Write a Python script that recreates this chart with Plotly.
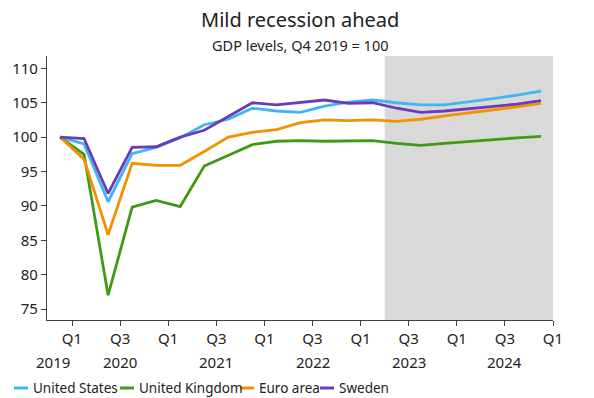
import plotly.graph_objects as go

# Quarterly GDP levels, indexed to Q4 2019 = 100
quarters = [
    "2019Q4", "2020Q1", "2020Q2", "2020Q3", "2020Q4",
    "2021Q1", "2021Q2", "2021Q3", "2021Q4",
    "2022Q1", "2022Q2", "2022Q3", "2022Q4",
    "2023Q1", "2023Q2", "2023Q3", "2023Q4",
    "2024Q1", "2024Q2", "2024Q3", "2024Q4",
]
united_states = [100.0, 99.0, 90.6, 97.6, 98.5, 99.9, 101.8, 102.6, 104.2,
                 103.8, 103.6, 104.5, 105.1, 105.4, 105.0, 104.7, 104.7,
                 105.1, 105.6, 106.1, 106.7]
united_kingdom = [100.0, 97.5, 77.0, 89.8, 90.8, 89.9, 95.8, 97.4, 98.9,
                  99.4, 99.5, 99.4, 99.5, 99.5, 99.1, 98.8, 99.1,
                  99.4, 99.6, 99.9, 100.1]
euro_area = [100.0, 96.8, 85.8, 96.2, 95.9, 95.9, 97.9, 100.0, 100.7,
             101.1, 102.1, 102.5, 102.4, 102.5, 102.3, 102.6, 103.1,
             103.5, 104.0, 104.4, 104.9]
sweden = [100.0, 99.8, 91.8, 98.5, 98.6, 100.0, 101.0, 103.0, 105.0,
          104.7, 105.0, 105.4, 104.9, 105.0, 104.2, 103.6, 103.8,
          104.1, 104.4, 104.8, 105.3]

series_names = ["United States", "United Kingdom", "Euro area", "Sweden"]
series_values = [united_states, united_kingdom, euro_area, sweden]
series_colors = ["#41b6ec", "#3e9a14", "#f39200", "#6a3cbc"]

# x position: quarters counted from the start of 2020Q1, points at mid-quarter
forecast_start = "2023Q2"
x_vals = [i - 0.5 for i in range(len(quarters))]
x_forecast = quarters.index(forecast_start) - 1

tick_vals = list(range(0, 21, 2))
tick_text = ["Q1", "Q3"] * 5 + ["Q1"]
year_labels = ["2020", "2021", "2022", "2023", "2024"]
year_positions = [2, 6, 10, 14, 18]
y_ticks = [75, 80, 85, 90, 95, 100, 105, 110]

FONT = "Noto Sans"
TEXT = "#222222"
AXIS = "#404040"

W, H = 594, 398
ML, MR, MT, MB = 47, 41, 56, 78
PW, PH = W - ML - MR, H - MT - MB


def px_x(p):
    return (p - ML) / PW


def px_y(p):
    return (H - MB - p) / PH


fig = go.Figure()

for name, vals, color in zip(series_names, series_values, series_colors):
    fig.add_trace(go.Scatter(
        x=x_vals, y=vals, name=name, mode="lines",
        line=dict(color=color, width=2.8), showlegend=False,
    ))

# forecast period shading
fig.add_vrect(x0=x_forecast, x1=20, fillcolor="#d9d9d9", opacity=1,
              line_width=0, layer="below")

axis_common = dict(
    showline=True, linecolor=AXIS, linewidth=1.2,
    ticks="outside", ticklen=5, tickcolor=AXIS, tickwidth=1,
    showgrid=False, zeroline=False,
    tickfont=dict(family=FONT, size=15, color=TEXT),
)

fig.update_layout(
    width=W, height=H,
    margin=dict(l=ML, r=MR, t=MT, b=MB),
    paper_bgcolor="white", plot_bgcolor="white",
    showlegend=False,
    xaxis=dict(range=[-1.04, 20], tickvals=tick_vals, ticktext=tick_text,
               **axis_common),
    yaxis=dict(range=[73.4, 111.8], tickvals=y_ticks, **axis_common),
    yaxis2=dict(range=[73.4, 111.8], tickvals=y_ticks, overlaying="y",
                side="right", **axis_common),
)

# title and subtitle
fig.add_annotation(text="Mild recession ahead", xref="paper", yref="paper",
                   x=0.5, y=px_y(20), xanchor="center", yanchor="middle",
                   showarrow=False,
                   font=dict(family=FONT, size=20, color=TEXT))
fig.add_annotation(text="GDP levels, Q4 2019 = 100", xref="paper", yref="paper",
                   x=0.5, y=px_y(45), xanchor="center", yanchor="middle",
                   showarrow=False,
                   font=dict(family=FONT, size=14.5, color=TEXT))

# year row under the quarter ticks
year_font = dict(family=FONT, size=15, color=TEXT)
fig.add_annotation(text="2019", xref="paper", yref="paper",
                   x=px_x(53), y=px_y(362), xanchor="center", yanchor="middle",
                   showarrow=False, font=year_font)
for label, pos in zip(year_labels, year_positions):
    fig.add_annotation(text=label, xref="x", yref="paper",
                       x=pos, y=px_y(362), xanchor="center", yanchor="middle",
                       showarrow=False, font=year_font)

# legend row along the bottom
legend_text_x = [31, 137, 257, 337]
legend_y = 388
for name, color, tx in zip(series_names, series_colors, legend_text_x):
    fig.add_shape(type="line", xref="paper", yref="paper",
                  x0=px_x(tx - 17), x1=px_x(tx - 3),
                  y0=px_y(legend_y), y1=px_y(legend_y),
                  line=dict(color=color, width=3))
    fig.add_annotation(text=name, xref="paper", yref="paper",
                       x=px_x(tx), y=px_y(legend_y), xanchor="left",
                       yanchor="middle", showarrow=False,
                       font=dict(family=FONT, size=13.5, color=TEXT))

fig.write_html("out.html")
